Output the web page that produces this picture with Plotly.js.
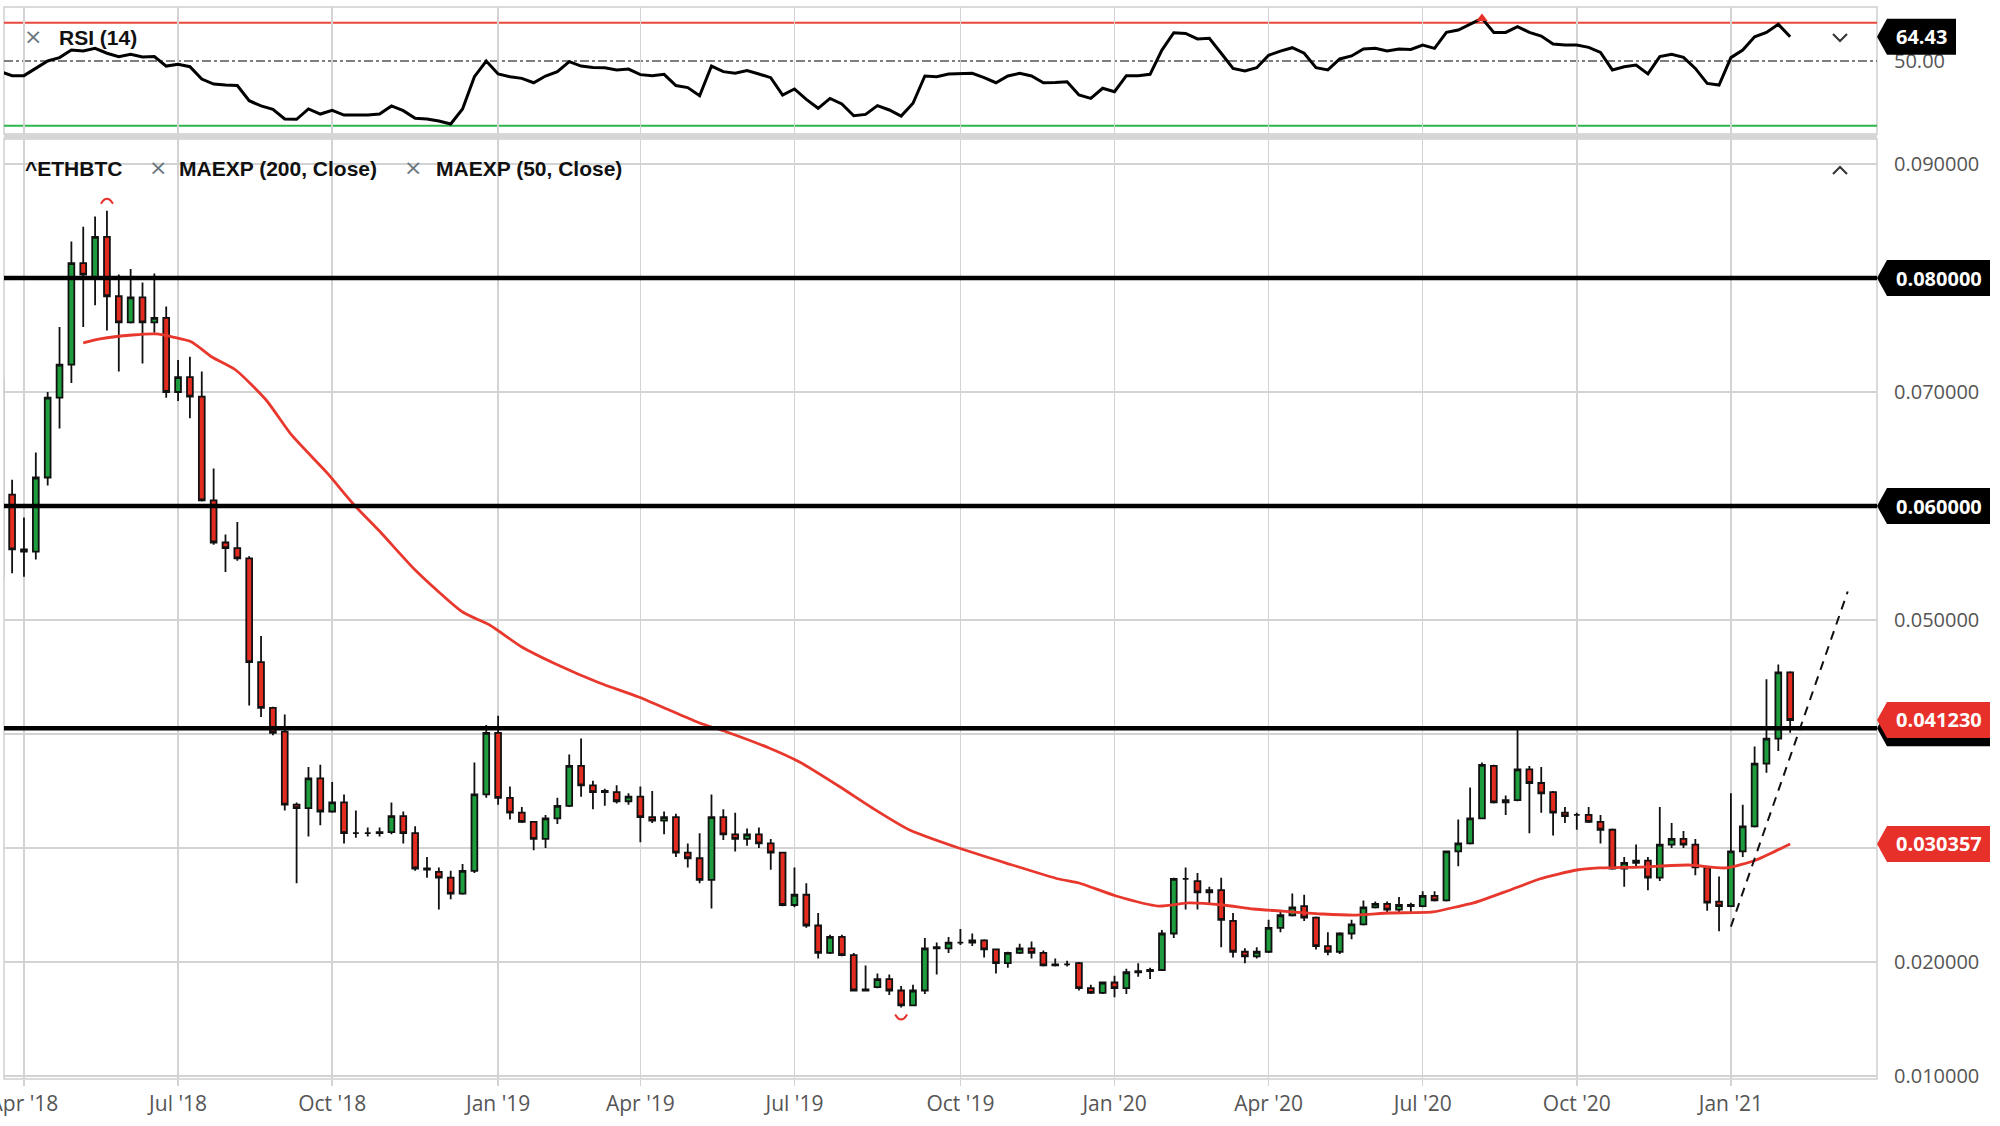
<!DOCTYPE html>
<html>
<head>
<meta charset="utf-8">
<script src="https://cdn.plot.ly/plotly-3.0.1.min.js"></script>
<style>
  html, body { margin: 0; padding: 0; background: #fff; }
  #chart { width: 2000px; height: 1126px; }
</style>
</head>
<body>
<div id="chart"></div>
<script>
// weekly ETH/BTC candles, first week starts Monday 2018-03-19
const firstWeek = '2018-03-19';

const opens = [
  0.0712,
  0.0610, 0.0562, 0.0560, 0.0625, 0.0695, 0.0724, 0.0813, 0.0801, 0.0836, 0.0784,
  0.0761, 0.0783, 0.0761, 0.0765, 0.0700, 0.0713, 0.0696, 0.0605, 0.0568, 0.0563,
  0.0554, 0.0463, 0.0423, 0.0402, 0.0338, 0.0335, 0.0361, 0.0332, 0.0340, 0.0313,
  0.0313, 0.0313, 0.0314, 0.0328, 0.0313, 0.0282, 0.0279, 0.0274, 0.0260, 0.0280,
  0.0347, 0.0401, 0.0344, 0.0331, 0.0323, 0.0308, 0.0326, 0.0337, 0.0372, 0.0355,
  0.0349, 0.0349, 0.0341, 0.0345, 0.0327, 0.0324, 0.0327, 0.0296, 0.0291, 0.0272,
  0.0327, 0.0312, 0.0308, 0.0312, 0.0304, 0.0296, 0.0250, 0.0259, 0.0232, 0.0208,
  0.0222, 0.0206, 0.0175, 0.0178, 0.0185, 0.0175, 0.0162, 0.0175, 0.0212, 0.0212,
  0.0217, 0.0217, 0.0219, 0.0211, 0.0199, 0.0208, 0.0212, 0.0208, 0.0197, 0.0198,
  0.0199, 0.0177, 0.0173, 0.0182, 0.0177, 0.0191, 0.0192, 0.0193, 0.0225, 0.0273,
  0.0271, 0.0261, 0.0263, 0.0236, 0.0209, 0.0205, 0.0209, 0.0230, 0.0241, 0.0249,
  0.0239, 0.0214, 0.0209, 0.0225, 0.0233, 0.0248, 0.0251, 0.0246, 0.0250, 0.0249,
  0.0258, 0.0254, 0.0297, 0.0304, 0.0326, 0.0372, 0.0340, 0.0342, 0.0369, 0.0357,
  0.0349, 0.0331, 0.0329, 0.0329, 0.0323, 0.0316, 0.0282, 0.0287, 0.0289, 0.0274,
  0.0303, 0.0308, 0.0303, 0.0283, 0.0253, 0.0249, 0.0297, 0.0319, 0.0374, 0.0396,
  0.0454
];
const highs = [
  0.0715,
  0.0623, 0.0590, 0.0647, 0.0700, 0.0757, 0.0832, 0.0845, 0.0854, 0.0859, 0.0803,
  0.0808, 0.0796, 0.0804, 0.0775, 0.0728, 0.0731, 0.0718, 0.0633, 0.0575, 0.0586,
  0.0556, 0.0486, 0.0424, 0.0417, 0.0340, 0.0371, 0.0373, 0.0358, 0.0347, 0.0333,
  0.0318, 0.0318, 0.0340, 0.0332, 0.0319, 0.0292, 0.0283, 0.0280, 0.0286, 0.0375,
  0.0408, 0.0416, 0.0354, 0.0336, 0.0323, 0.0329, 0.0344, 0.0382, 0.0396, 0.0359,
  0.0352, 0.0355, 0.0348, 0.0354, 0.0350, 0.0332, 0.0330, 0.0304, 0.0313, 0.0347,
  0.0334, 0.0331, 0.0317, 0.0318, 0.0308, 0.0296, 0.0283, 0.0269, 0.0243, 0.0224,
  0.0224, 0.0208, 0.0197, 0.0190, 0.0189, 0.0179, 0.0180, 0.0221, 0.0217, 0.0222,
  0.0229, 0.0225, 0.0220, 0.0211, 0.0209, 0.0216, 0.0218, 0.0210, 0.0203, 0.0201,
  0.0200, 0.0180, 0.0183, 0.0188, 0.0194, 0.0199, 0.0195, 0.0228, 0.0274, 0.0283,
  0.0278, 0.0266, 0.0274, 0.0243, 0.0212, 0.0213, 0.0237, 0.0245, 0.0260, 0.0259,
  0.0240, 0.0226, 0.0226, 0.0237, 0.0254, 0.0253, 0.0253, 0.0257, 0.0252, 0.0262,
  0.0262, 0.0297, 0.0325, 0.0353, 0.0375, 0.0373, 0.0346, 0.0404, 0.0372, 0.0371,
  0.0350, 0.0336, 0.0331, 0.0336, 0.0329, 0.0317, 0.0292, 0.0303, 0.0292, 0.0336,
  0.0322, 0.0315, 0.0308, 0.0284, 0.0275, 0.0348, 0.0338, 0.0389, 0.0448, 0.0461,
  0.0455
];
const lows = [
  0.0535,
  0.0541, 0.0538, 0.0553, 0.0618, 0.0668, 0.0708, 0.0757, 0.0776, 0.0754, 0.0718,
  0.0760, 0.0725, 0.0752, 0.0695, 0.0692, 0.0677, 0.0604, 0.0566, 0.0542, 0.0552,
  0.0425, 0.0415, 0.0399, 0.0333, 0.0269, 0.0310, 0.0320, 0.0331, 0.0304, 0.0309,
  0.0310, 0.0310, 0.0312, 0.0304, 0.0280, 0.0274, 0.0246, 0.0255, 0.0259, 0.0278,
  0.0344, 0.0338, 0.0325, 0.0322, 0.0298, 0.0300, 0.0321, 0.0336, 0.0345, 0.0334,
  0.0337, 0.0339, 0.0338, 0.0305, 0.0322, 0.0312, 0.0292, 0.0283, 0.0269, 0.0247,
  0.0307, 0.0297, 0.0302, 0.0300, 0.0281, 0.0249, 0.0248, 0.0230, 0.0203, 0.0207,
  0.0205, 0.0175, 0.0175, 0.0177, 0.0171, 0.0160, 0.0162, 0.0172, 0.0189, 0.0208,
  0.0215, 0.0214, 0.0204, 0.0190, 0.0195, 0.0207, 0.0203, 0.0196, 0.0196, 0.0196,
  0.0175, 0.0172, 0.0172, 0.0169, 0.0172, 0.0187, 0.0185, 0.0192, 0.0221, 0.0246,
  0.0246, 0.0250, 0.0213, 0.0204, 0.0199, 0.0203, 0.0208, 0.0226, 0.0240, 0.0236,
  0.0211, 0.0206, 0.0207, 0.0220, 0.0232, 0.0247, 0.0243, 0.0243, 0.0243, 0.0248,
  0.0253, 0.0253, 0.0284, 0.0303, 0.0326, 0.0339, 0.0329, 0.0341, 0.0313, 0.0331,
  0.0311, 0.0322, 0.0316, 0.0322, 0.0304, 0.0281, 0.0266, 0.0283, 0.0263, 0.0271,
  0.0300, 0.0300, 0.0276, 0.0245, 0.0227, 0.0249, 0.0292, 0.0318, 0.0366, 0.0385,
  0.0401
];
const closes = [
  0.0537,
  0.0562, 0.0560, 0.0625, 0.0695, 0.0724, 0.0813, 0.0803, 0.0836, 0.0784, 0.0761,
  0.0783, 0.0761, 0.0765, 0.0700, 0.0713, 0.0696, 0.0605, 0.0568, 0.0563, 0.0554,
  0.0463, 0.0423, 0.0401, 0.0338, 0.0335, 0.0361, 0.0332, 0.0340, 0.0313, 0.0313,
  0.0313, 0.0314, 0.0328, 0.0313, 0.0282, 0.0281, 0.0274, 0.0260, 0.0280, 0.0347,
  0.0401, 0.0344, 0.0331, 0.0323, 0.0308, 0.0326, 0.0337, 0.0372, 0.0355, 0.0349,
  0.0350, 0.0341, 0.0345, 0.0327, 0.0324, 0.0327, 0.0296, 0.0291, 0.0272, 0.0327,
  0.0312, 0.0308, 0.0312, 0.0304, 0.0296, 0.0250, 0.0259, 0.0232, 0.0208, 0.0222,
  0.0206, 0.0175, 0.0176, 0.0185, 0.0175, 0.0162, 0.0175, 0.0212, 0.0213, 0.0217,
  0.0217, 0.0219, 0.0211, 0.0199, 0.0208, 0.0212, 0.0208, 0.0197, 0.0198, 0.0198,
  0.0177, 0.0173, 0.0182, 0.0177, 0.0191, 0.0192, 0.0193, 0.0225, 0.0273, 0.0273,
  0.0261, 0.0263, 0.0237, 0.0209, 0.0205, 0.0209, 0.0230, 0.0241, 0.0248, 0.0239,
  0.0214, 0.0209, 0.0225, 0.0233, 0.0248, 0.0251, 0.0246, 0.0250, 0.0249, 0.0258,
  0.0254, 0.0297, 0.0304, 0.0326, 0.0373, 0.0340, 0.0342, 0.0369, 0.0357, 0.0348,
  0.0331, 0.0328, 0.0329, 0.0323, 0.0316, 0.0282, 0.0287, 0.0289, 0.0274, 0.0303,
  0.0308, 0.0303, 0.0283, 0.0252, 0.0249, 0.0297, 0.0319, 0.0374, 0.0396, 0.0454,
  0.04123
];

// RSI (14), one value per weekly candle
const rsiVals = [
  43.7,
  41.3, 41.3, 45.6, 50.0, 52.0, 56.5, 55.9, 57.5, 54.6, 52.6,
  54.0, 52.4, 52.6, 47.0, 48.0, 46.6, 39.3, 36.3, 35.7, 35.4,
  26.4, 23.3, 21.3, 15.6, 15.4, 21.5, 18.5, 20.7, 17.9, 17.9,
  17.9, 18.5, 23.3, 20.5, 16.0, 15.6, 14.4, 12.6, 21.5, 40.7,
  50.0, 42.3, 40.7, 39.7, 37.1, 41.1, 43.7, 49.6, 47.0, 46.2,
  46.0, 44.7, 45.2, 41.9, 41.3, 42.1, 35.4, 34.2, 29.4, 47.0,
  43.7, 42.7, 44.3, 42.3, 40.1, 29.8, 33.4, 27.2, 21.9, 27.8,
  24.5, 17.5, 18.3, 23.5, 20.9, 17.3, 24.9, 41.1, 40.7, 42.3,
  42.7, 42.7, 40.1, 37.1, 41.1, 42.7, 41.1, 37.1, 37.3, 37.7,
  29.8, 27.8, 33.8, 31.8, 41.3, 41.3, 42.1, 56.5, 66.8, 66.4,
  63.1, 63.5, 54.6, 45.6, 44.1, 46.0, 53.4, 55.9, 57.9, 54.6,
  46.0, 44.7, 51.2, 53.0, 57.1, 57.5, 55.9, 57.1, 56.9, 59.5,
  57.5, 67.0, 68.4, 71.8, 75.3, 67.0, 67.0, 70.4, 67.0, 64.8,
  60.1, 59.5, 59.5, 58.1, 55.1, 44.7, 46.6, 47.6, 42.3, 52.6,
  54.0, 52.2, 45.6, 36.7, 35.7, 52.0, 56.5, 64.4, 67.0, 71.8,
  64.43
];
const rsiUpper = 72.7;
const rsiMid = 50;
const rsiLower = 11.6;

// MAEXP (50, Close)
const emaDates = [
  '2018-05-07', '2018-05-17', '2018-06-05', '2018-06-19', '2018-06-29', '2018-07-10',
  '2018-07-22', '2018-08-05', '2018-08-23', '2018-09-07', '2018-09-28', '2018-10-14',
  '2018-10-30', '2018-11-19', '2018-12-17', '2019-01-02', '2019-01-21', '2019-02-10',
  '2019-03-08', '2019-03-31', '2019-04-18', '2019-05-06', '2019-05-22', '2019-06-16',
  '2019-07-04', '2019-07-28', '2019-08-16', '2019-09-07', '2019-10-06', '2019-11-03',
  '2019-12-04', '2019-12-16', '2020-01-07', '2020-02-01', '2020-02-19', '2020-03-10',
  '2020-03-28', '2020-04-14', '2020-05-08', '2020-05-28', '2020-06-16', '2020-07-12',
  '2020-07-28', '2020-08-05', '2020-08-25', '2020-09-13', '2020-10-05', '2020-10-18',
  '2020-11-11', '2020-12-10', '2021-01-01', '2021-01-19', '2021-01-28', '2021-02-08'
];
const emaVals = [
  0.0743, 0.07465, 0.0750, 0.07509, 0.07482, 0.07439,
  0.07307, 0.07193, 0.0693, 0.06623, 0.0629, 0.06009,
  0.05763, 0.05439, 0.0507, 0.04956, 0.04763, 0.04614,
  0.04447, 0.04325, 0.04211, 0.04096, 0.04018, 0.03877,
  0.03754, 0.03535, 0.03351, 0.03158, 0.0300, 0.02868,
  0.02728, 0.02693, 0.02579, 0.02491, 0.02518, 0.0250,
  0.02465, 0.02447, 0.02421, 0.02412, 0.0243, 0.02439,
  0.02491, 0.02518, 0.02623, 0.02728, 0.02807, 0.02825,
  0.02833, 0.02851, 0.02825, 0.02895, 0.02956, 0.030357
];

// drawn lines
const levels = [0.08, 0.06, 0.0405];
const trendDates = ['2021-01-04', '2021-03-14'];
const trendVals = [0.0231, 0.0525];

// axes
const tickDates = ['2018-04-02', '2018-07-02', '2018-10-01', '2019-01-07', '2019-04-01', '2019-07-01',
  '2019-10-07', '2020-01-06', '2020-04-06', '2020-07-06', '2020-10-05', '2021-01-04'];
const tickLabels = ["Apr '18", "Jul '18", "Oct '18", "Jan '19", "Apr '19", "Jul '19",
  "Oct '19", "Jan '20", "Apr '20", "Jul '20", "Oct '20", "Jan '21"];
const priceTicks = [0.01, 0.02, 0.03, 0.04, 0.05, 0.06, 0.07, 0.08, 0.09];

const GREEN = '#1d9d3d';
const RED = '#e42b20';
const GRID = '#d3d3d3';

const start = new Date(firstWeek + 'T00:00:00Z').getTime();
const dates = closes.map((_, i) => new Date(start + i * 7 * 864e5).toISOString().slice(0, 10));

const xr = 1877 / 2000;   // right edge of plot area in paper units
const xl = 4 / 2000;
const priceDom = [47 / 1126, 987 / 1126];
const rsiDom = [992 / 1126, 1119 / 1126];

const candles = {
  type: 'candlestick',
  x: dates, open: opens, high: highs, low: lows, close: closes,
  xaxis: 'x', yaxis: 'y',
  increasing: { line: { color: '#111', width: 1.8 }, fillcolor: GREEN },
  decreasing: { line: { color: '#111', width: 1.8 }, fillcolor: RED },
  whiskerwidth: 0,
  hoverinfo: 'x+text',
  showlegend: false
};

const ema = {
  type: 'scatter', mode: 'lines',
  x: emaDates, y: emaVals,
  line: { color: '#e8372c', width: 2.8, shape: 'spline', smoothing: 0.6 },
  xaxis: 'x', yaxis: 'y', showlegend: false
};

const trend = {
  type: 'scatter', mode: 'lines',
  x: trendDates, y: trendVals,
  line: { color: '#111', width: 2, dash: '9px,7px' },
  xaxis: 'x', yaxis: 'y', showlegend: false
};

const rsi = {
  type: 'scatter', mode: 'lines',
  x: dates, y: rsiVals,
  line: { color: '#000', width: 3 },
  xaxis: 'x', yaxis: 'y2', showlegend: false
};

let iPeak = 0;
rsiVals.forEach((v, i) => { if (v > rsiVals[iPeak]) iPeak = i; });
const rsiPeak = {
  type: 'scatter', mode: 'markers',
  x: [dates[iPeak]], y: [rsiVals[iPeak]],
  marker: { symbol: 'triangle-up', size: 10, color: '#e8302a' },
  xaxis: 'x', yaxis: 'y2', showlegend: false
};

let iHigh = 0, iLow = 0;
highs.forEach((v, i) => { if (v > highs[iHigh]) iHigh = i; });
lows.forEach((v, i) => { if (v < lows[iLow]) iLow = i; });

const shapes = [];
const annotations = [];

// panel frames and separator
shapes.push({ type: 'rect', xref: 'paper', yref: 'paper', x0: xl, x1: xr, y0: rsiDom[0], y1: rsiDom[1],
  line: { color: '#cfcfcf', width: 1.5 }, layer: 'below' });
shapes.push({ type: 'rect', xref: 'paper', yref: 'paper', x0: xl, x1: xr, y0: priceDom[0], y1: priceDom[1],
  line: { color: '#cfcfcf', width: 1.5 }, layer: 'below' });
shapes.push({ type: 'rect', xref: 'paper', yref: 'paper', x0: xl, x1: xr, y0: priceDom[1], y1: rsiDom[0],
  fillcolor: '#d6d6d6', line: { width: 0 } });

// RSI reference lines
shapes.push({ type: 'line', xref: 'paper', yref: 'y2', x0: xl, x1: xr, y0: rsiUpper, y1: rsiUpper,
  line: { color: '#e8483c', width: 2 }, layer: 'below' });
shapes.push({ type: 'line', xref: 'paper', yref: 'y2', x0: xl, x1: xr, y0: rsiLower, y1: rsiLower,
  line: { color: '#2db54d', width: 2 }, layer: 'below' });
shapes.push({ type: 'line', xref: 'paper', yref: 'y2', x0: xl, x1: xr, y0: rsiMid, y1: rsiMid,
  line: { color: '#555', width: 1.5, dash: 'dashdot' }, layer: 'below' });

// horizontal levels
levels.forEach(v => {
  shapes.push({ type: 'line', xref: 'paper', yref: 'y', x0: xl, x1: xr, y0: v, y1: v,
    line: { color: '#000', width: 4.5 }, layer: 'above' });
});

// extreme markers
shapes.push({ type: 'path', xref: 'x', yref: 'y', xsizemode: 'pixel', ysizemode: 'pixel',
  xanchor: dates[iHigh], yanchor: highs[iHigh], path: 'M-6,7 Q0,17 6,7',
  line: { color: '#e8302a', width: 2 }, fillcolor: 'rgba(0,0,0,0)' });
shapes.push({ type: 'path', xref: 'x', yref: 'y', xsizemode: 'pixel', ysizemode: 'pixel',
  xanchor: dates[iLow], yanchor: lows[iLow], path: 'M-6,-7 Q0,-17 6,-7',
  line: { color: '#e8302a', width: 2 }, fillcolor: 'rgba(0,0,0,0)' });

// value tags on the right
function tag(yref, value, text, color, w) {
  shapes.push({ type: 'path', xref: 'paper', yref: yref, xsizemode: 'pixel', ysizemode: 'pixel',
    xanchor: xr, yanchor: value, path: `M0,0 L10,18 L${w},18 L${w},-18 L10,-18 Z`,
    fillcolor: color, line: { color: color, width: 0 }, layer: 'above' });
  if (text) {
    annotations.push({ xref: 'paper', yref: yref, x: (1877 + 5 + w / 2) / 2000, y: value,
      xanchor: 'center', yanchor: 'middle', showarrow: false, text: '<b>' + text + '</b>',
      font: { family: 'Open Sans', size: 20, color: '#fff' } });
  }
}
tag('y', levels[0], levels[0].toFixed(6), '#000', 113);
tag('y', levels[1], levels[1].toFixed(6), '#000', 113);
tag('y', levels[2], '', '#000', 113);
tag('y', closes[closes.length - 1], closes[closes.length - 1].toFixed(6), '#e8302a', 113);
tag('y', emaVals[emaVals.length - 1], emaVals[emaVals.length - 1].toFixed(6), '#e8302a', 113);
tag('y2', rsiVals[rsiVals.length - 1], rsiVals[rsiVals.length - 1].toFixed(2), '#000', 79);

// price ticks that sit under a tag are not shown
const coveredTicks = [0.03, 0.04, 0.06, 0.08];

// collapse chevrons
shapes.push({ type: 'path', xref: 'paper', yref: 'paper', xsizemode: 'pixel', ysizemode: 'pixel',
  xanchor: 1840 / 2000, yanchor: (1126 - 38) / 1126, path: 'M-7,4 L0,-3 L7,4',
  line: { color: '#333', width: 2 } });
shapes.push({ type: 'path', xref: 'paper', yref: 'paper', xsizemode: 'pixel', ysizemode: 'pixel',
  xanchor: 1840 / 2000, yanchor: (1126 - 170) / 1126, path: 'M-7,-4 L0,3 L7,-4',
  line: { color: '#333', width: 2 } });

// pane titles
const titleFont = { family: 'Liberation Sans', size: 21, color: '#111' };
const crossFont = { family: 'DejaVu Sans', size: 22, color: '#6b7780' };
function label(x, yPx, text, font, anchor) {
  annotations.push({ xref: 'paper', yref: 'paper', x: x / 2000, y: (1126 - yPx) / 1126,
    xanchor: anchor, yanchor: 'middle', showarrow: false, text: text, font: font });
}
label(33, 36, '×', crossFont, 'center');
label(57, 37, '<b>RSI (14)</b>', titleFont, 'left');
label(23, 168, '<b>^ETHBTC</b>', titleFont, 'left');
label(158, 167, '×', crossFont, 'center');
label(177, 168, '<b>MAEXP (200, Close)</b>', titleFont, 'left');
label(413, 167, '×', crossFont, 'center');
label(434, 168, '<b>MAEXP (50, Close)</b>', titleFont, 'left');

const tickFont = { family: 'Open Sans', size: 20, color: '#555' };

const layout = {
  width: 2000,
  height: 1126,
  margin: { l: 0, r: 0, t: 0, b: 0 },
  paper_bgcolor: '#fff',
  plot_bgcolor: '#fff',
  showlegend: false,
  hovermode: false,
  xaxis: {
    type: 'date',
    domain: [xl, xr],
    range: ['2018-03-21 05:00', '2021-03-31 06:40'],
    rangeslider: { visible: false },
    tickmode: 'array',
    tickvals: tickDates,
    ticktext: tickLabels,
    ticklabeloverflow: 'allow',
    showgrid: true,
    gridcolor: GRID,
    gridwidth: 1.5,
    ticks: 'outside',
    ticklen: 6,
    tickwidth: 1.5,
    tickcolor: GRID,
    tickfont: { family: 'Open Sans', size: 21, color: '#555' },
    zeroline: false,
    showline: false,
    anchor: 'y'
  },
  yaxis: {
    domain: priceDom,
    range: [0.009737, 0.092193],
    side: 'right',
    anchor: 'x',
    tickmode: 'array',
    tickvals: priceTicks,
    ticktext: priceTicks.map(v => coveredTicks.includes(v) ? '' : v.toFixed(6)),
    showgrid: true,
    gridcolor: GRID,
    gridwidth: 1.5,
    ticks: '',
    ticklabelstandoff: 16,
    tickfont: tickFont,
    zeroline: false,
    showline: false
  },
  yaxis2: {
    domain: rsiDom,
    range: [6.65, 82.07],
    side: 'right',
    anchor: 'x',
    tickmode: 'array',
    tickvals: [rsiMid],
    ticktext: [rsiMid.toFixed(2)],
    showgrid: false,
    ticks: '',
    ticklabelstandoff: 16,
    tickfont: tickFont,
    zeroline: false,
    showline: false
  },
  shapes: shapes,
  annotations: annotations
};

Plotly.newPlot('chart', [candles, ema, trend, rsi, rsiPeak], layout, { displayModeBar: false, staticPlot: true });
</script>
</body>
</html>
